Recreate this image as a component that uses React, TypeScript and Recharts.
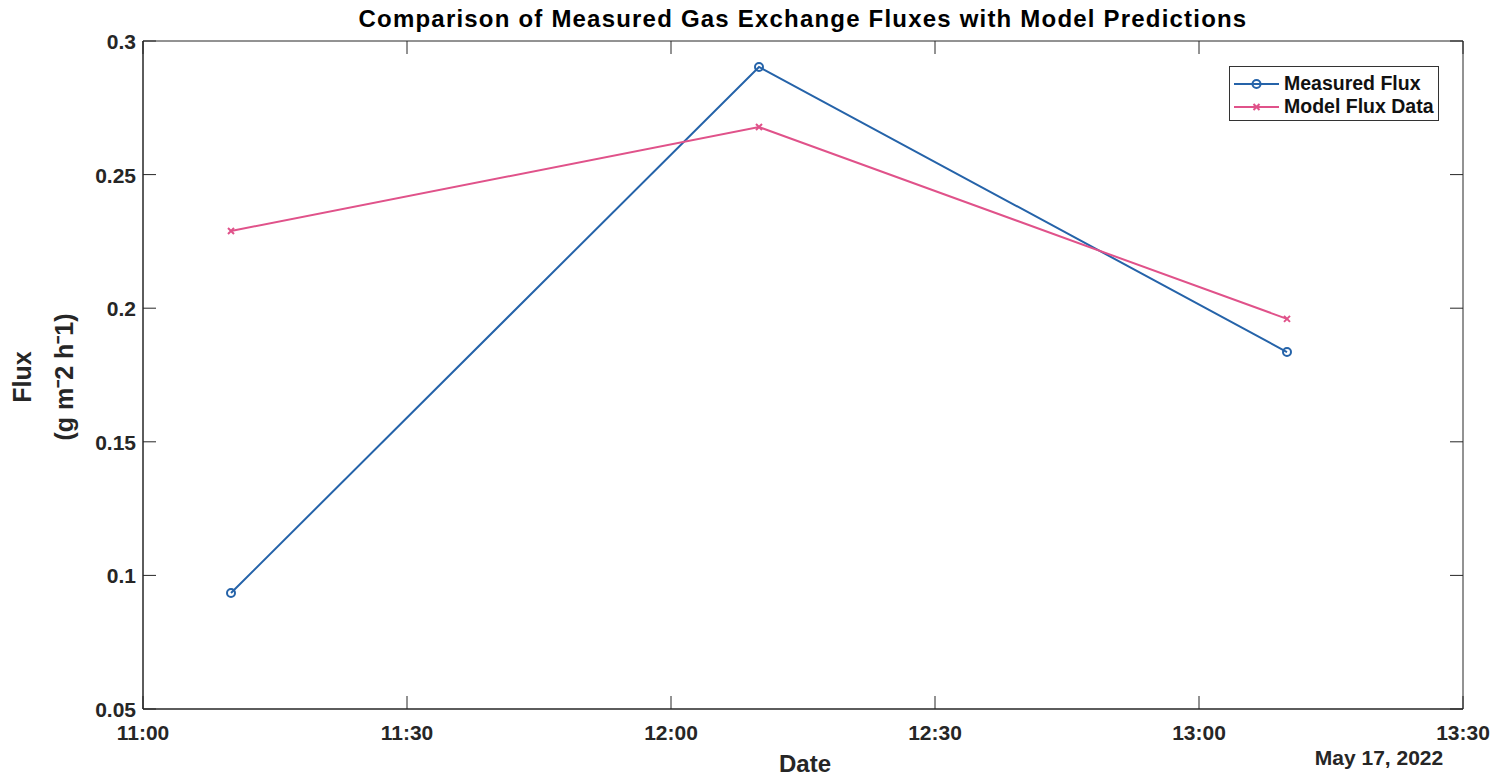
import { Line, LineChart, ReferenceArea, XAxis, YAxis } from 'recharts';

const times = ['11:10', '12:10', '13:10'];
const measuredFlux = [0.0934, 0.2903, 0.1836];
const modelFlux = [0.2289, 0.2678, 0.196];
const xTicks = ['11:00', '11:30', '12:00', '12:30', '13:00', '13:30'];
const yTicks = [0.05, 0.1, 0.15, 0.2, 0.25, 0.3];

const toMin = (t: string) => {
  const [h, m] = t.split(':').map(Number);
  return (h - 11) * 60 + m;
};

const data = times.map((t, i) => ({
  t: toMin(t),
  measured: measuredFlux[i],
  model: modelFlux[i],
}));

const W = 1509;
const H = 778;
const YW = 60;
const XH = 40;
const PLOT_LEFT = 143;
const PLOT_TOP = 41;
const PLOT_RIGHT = 1463;
const PLOT_BOTTOM = 709;
const M = { top: PLOT_TOP, right: W - PLOT_RIGHT, bottom: H - PLOT_BOTTOM - XH, left: PLOT_LEFT - YW };
const BLUE = '#2563a9';
const PINK = '#e0528a';
const INK = '#262626';
const FONT = '"Liberation Sans", Arial, Helvetica, sans-serif';

const XTick = (props: any) => {
  const { x, y, payload, index } = props;
  return (
    <g>
      <line x1={x} y1={y} x2={x} y2={y - 13} stroke={INK} strokeWidth={1} />
      <line x1={x} y1={PLOT_TOP} x2={x} y2={PLOT_TOP + 13} stroke={INK} strokeWidth={1} />
      <text x={x} y={y + 31} textAnchor="middle" fontSize={21} fontWeight="bold" fill={INK} fontFamily={FONT}>
        {xTicks[index] ?? payload.value}
      </text>
    </g>
  );
};

const YTick = (props: any) => {
  const { x, y, payload } = props;
  return (
    <g>
      <line x1={x} y1={y} x2={x + 13} y2={y} stroke={INK} strokeWidth={1} />
      <line x1={PLOT_RIGHT} y1={y} x2={PLOT_RIGHT - 13} y2={y} stroke={INK} strokeWidth={1} />
      <text x={x - 7} y={y + 8} textAnchor="end" fontSize={21} fontWeight="bold" fill={INK} fontFamily={FONT}>
        {payload.value}
      </text>
    </g>
  );
};

const CrossDot = (props: any) => {
  const { cx, cy } = props;
  if (cx == null || cy == null) return null;
  const s = 3;
  return (
    <path
      d={`M${cx - s},${cy - s}L${cx + s},${cy + s}M${cx - s},${cy + s}L${cx + s},${cy - s}`}
      stroke={PINK}
      strokeWidth={2}
      fill="none"
    />
  );
};

const LegendBox = () => (
  <div
    style={{
      position: 'absolute',
      left: 1229,
      top: 66,
      width: 210,
      height: 55,
      boxSizing: 'border-box',
      border: '1px solid #333',
      background: '#fff',
      padding: '5px 0 0 4px',
      fontWeight: 'bold',
      fontSize: 19.5,
      color: '#111',
      lineHeight: '23px',
      whiteSpace: 'nowrap',
    }}
  >
    <div style={{ display: 'flex', alignItems: 'center' }}>
      <svg width={45} height={12} style={{ marginRight: 5 }}>
        <line x1={0} y1={6} x2={45} y2={6} stroke={BLUE} strokeWidth={2} />
        <circle cx={22.5} cy={6} r={4} stroke={BLUE} strokeWidth={2} fill="none" />
      </svg>
      Measured Flux
    </div>
    <div style={{ display: 'flex', alignItems: 'center' }}>
      <svg width={45} height={12} style={{ marginRight: 5 }}>
        <line x1={0} y1={6} x2={45} y2={6} stroke={PINK} strokeWidth={2} />
        <path d="M19.5,3L25.5,9M19.5,9L25.5,3" stroke={PINK} strokeWidth={2} />
      </svg>
      Model Flux Data
    </div>
  </div>
);

export default function App() {
  return (
    <div style={{ position: 'absolute', left: 0, top: 0, width: W, height: H, background: '#fff', fontFamily: FONT }}>
      <div
        style={{
          position: 'absolute',
          left: PLOT_LEFT,
          width: PLOT_RIGHT - PLOT_LEFT,
          top: 7,
          textAlign: 'center',
          fontSize: 24,
          lineHeight: '24px',
          letterSpacing: 1.2,
          fontWeight: 'bold',
          color: '#000',
        }}
      >
        Comparison of Measured Gas Exchange Fluxes with Model Predictions
      </div>
      <LineChart width={W} height={H} data={data} margin={M}>
        <XAxis
          dataKey="t"
          type="number"
          domain={[0, 150]}
          ticks={xTicks.map(toMin)}
          height={XH}
          tickSize={0}
          tickMargin={0}
          tick={<XTick />}
          tickLine={false}
          axisLine={{ stroke: INK }}
          interval={0}
        />
        <YAxis
          type="number"
          domain={[0.05, 0.3]}
          ticks={yTicks}
          width={YW}
          tickSize={0}
          tickMargin={0}
          tick={<YTick />}
          tickLine={false}
          axisLine={{ stroke: INK }}
          interval={0}
        />
        <ReferenceArea x1={0} x2={150} y1={0.05} y2={0.3} fill="none" stroke={INK} strokeWidth={1} ifOverflow="visible" />
        <Line
          dataKey="measured"
          stroke={BLUE}
          strokeWidth={2}
          dot={{ r: 4, stroke: BLUE, strokeWidth: 2, fill: 'none' }}
          isAnimationActive={false}
        />
        <Line dataKey="model" stroke={PINK} strokeWidth={2} dot={<CrossDot />} isAnimationActive={false} />
      </LineChart>
      <LegendBox />
      <div
        style={{
          position: 'absolute',
          left: 740,
          width: 130,
          top: 752,
          textAlign: 'center',
          fontSize: 24,
          lineHeight: '24px',
          fontWeight: 'bold',
          color: INK,
        }}
      >
        Date
      </div>
      <div
        style={{
          position: 'absolute',
          left: 1279,
          width: 200,
          top: 747,
          textAlign: 'center',
          fontSize: 21,
          lineHeight: '21px',
          fontWeight: 'bold',
          color: INK,
        }}
      >
        May 17, 2022
      </div>
      <div
        style={{
          position: 'absolute',
          left: 43,
          top: 377,
          transform: 'translate(-50%, -50%) rotate(-90deg)',
          textAlign: 'center',
          fontSize: 25,
          fontWeight: 'bold',
          color: INK,
          lineHeight: '42px',
          whiteSpace: 'nowrap',
        }}
      >
        Flux
        <br />
        (g m⁻2 h⁻1)
      </div>
    </div>
  );
}
